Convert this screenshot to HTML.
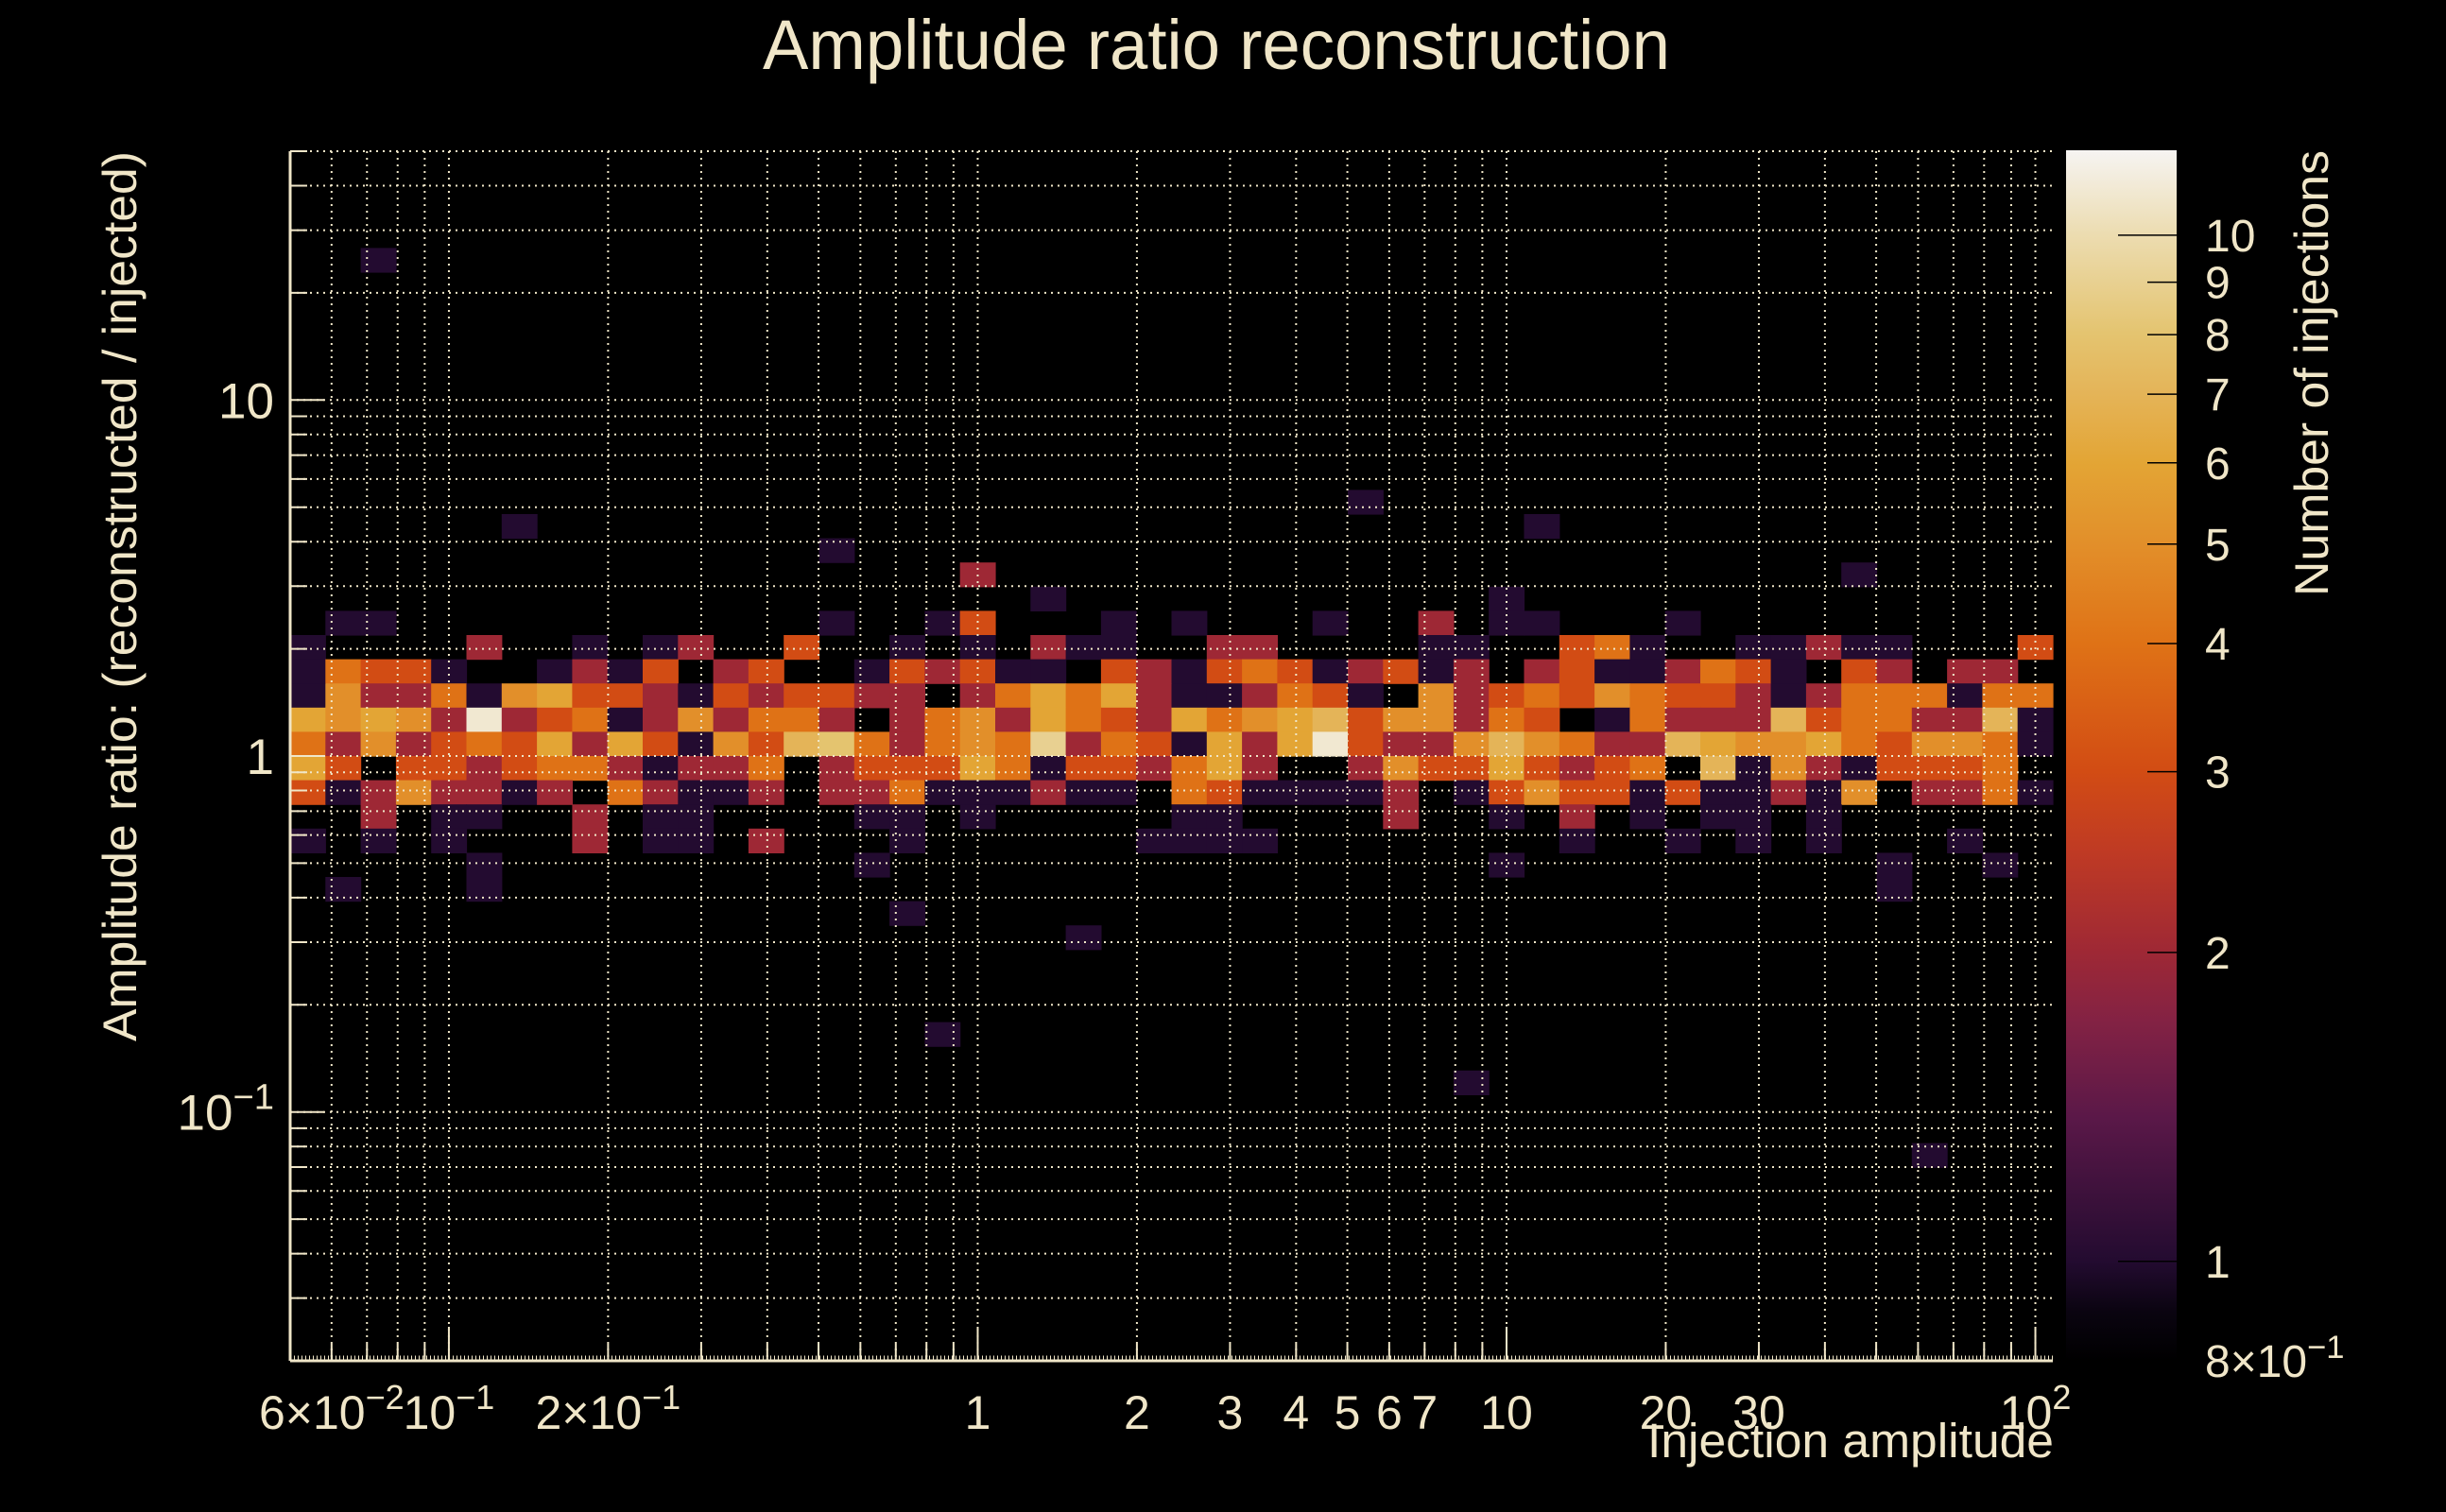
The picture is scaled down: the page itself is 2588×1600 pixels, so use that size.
<!DOCTYPE html>
<html><head><meta charset="utf-8"><title>Amplitude ratio reconstruction</title>
<style>
html,body{margin:0;padding:0;background:#000;}
svg{display:block;font-family:"Liberation Sans",sans-serif;}
text{fill:#f0e6c8;}
</style></head>
<body>
<svg id="chart" xmlns="http://www.w3.org/2000/svg" width="2588" height="1600" viewBox="0 0 2588 1600">
<rect x="0" y="0" width="2588" height="1600" fill="#000"/>
<text x="1287" y="73" font-size="74" text-anchor="middle" textLength="960" lengthAdjust="spacingAndGlyphs">Amplitude ratio reconstruction</text>
<g id="cells"></g>
<g id="grid"></g>
<g id="axes"></g>
<g id="cbar"></g>
<text transform="translate(144,160) rotate(-90)" x="0" y="0" font-size="50" text-anchor="end" textLength="942" lengthAdjust="spacingAndGlyphs">Amplitude ratio: (reconstructed / injected)</text>
<text x="2173" y="1542" font-size="51" text-anchor="end" textLength="430" lengthAdjust="spacingAndGlyphs">Injection amplitude</text>
<text transform="translate(2463,159) rotate(-90)" x="0" y="0" font-size="50" text-anchor="end" textLength="472" lengthAdjust="spacingAndGlyphs">Number of injections</text>
</svg>
<script>
const xRange = [0.0501, 107.9];
const yRange = [0.02, 50];
const zRange = [0.8, 12.1];
const nBinsX = 50;
const nBinsY = 50;
// dense band: bin rows 19..28 counted from the top (high ratio)
const bandFirstRow = 19;
const bandRows = [
[0,1,1,0,0,0,0,0,0,0,0,0,0,0,0,1,0,0,1,3,0,0,0,1,0,1,0,0,0,1,0,0,2,0,1,1,0,0,0,1,0,0,0,0,0,0,0,0,0,0],
[1,0,0,0,0,2,0,0,1,0,1,2,0,0,3,0,0,1,0,1,0,2,1,1,0,0,2,2,0,0,0,0,1,1,0,0,3,4,1,0,0,1,1,2,1,1,0,0,0,3],
[1,4,3,3,1,0,0,1,2,1,3,0,2,3,0,0,1,3,2,3,1,1,0,3,2,1,3,4,3,1,2,3,1,2,0,2,3,1,1,2,4,3,1,0,3,2,0,2,2,0],
[1,5,2,2,4,1,5,6,3,3,2,1,3,2,3,3,2,2,0,2,4,6,4,6,2,1,1,2,4,3,1,0,5,2,3,4,3,5,4,3,3,2,1,2,4,4,4,1,4,4],
[6,5,6,5,2,11,2,3,4,1,2,5,2,4,4,2,0,2,4,5,2,6,4,3,2,6,4,5,6,7,3,5,5,2,4,3,0,1,4,2,2,2,7,3,4,4,2,2,7,1],
[4,2,5,2,3,4,3,6,2,6,3,1,5,3,7,8,4,2,4,5,4,9,2,4,3,1,6,2,6,11,3,2,2,5,7,5,4,2,2,7,6,5,5,6,4,3,5,5,4,1],
[6,3,0,3,3,2,3,4,4,2,1,2,2,4,0,2,3,3,3,6,4,1,3,3,2,4,6,2,0,0,2,5,3,3,6,3,2,3,4,0,7,1,5,2,1,3,3,3,4,0],
[3,1,2,5,2,2,1,2,0,4,2,1,1,2,0,2,2,4,1,1,1,2,1,1,0,4,3,1,1,1,1,2,0,1,3,5,3,3,1,3,1,1,2,1,5,0,2,2,4,1],
[0,0,2,0,1,1,0,0,2,0,1,1,0,0,0,0,1,1,0,1,0,0,0,0,0,1,1,0,0,0,0,2,0,0,1,0,2,0,1,0,1,1,0,1,0,0,0,0,0,0],
[1,0,1,0,1,0,0,0,2,0,1,1,0,2,0,0,0,1,0,0,0,0,0,0,1,1,1,1,0,0,0,0,0,0,0,0,1,0,0,1,0,1,0,1,0,0,0,1,0,0]
];
// isolated bins outside the band
const sparseRow   = [4, 14, 15, 15, 16, 17, 17, 18, 18, 29, 29, 29, 29, 29, 30, 30, 30, 31, 32, 36, 38, 41];
const sparseCol   = [2, 30,  6, 35, 15, 19, 44, 21, 34,  5, 16, 34, 45, 48,  1,  5, 45, 17, 22, 18, 33, 46];
const sparseCount = [1,  1,  1,  1,  1,  2,  1,  1,  1,  1,  1,  1,  1,  1,  1,  1,  1,  1,  1,  1,  1,  1];
const xGridValues = [0.06,0.07,0.08,0.09,0.1,0.2,0.3,0.4,0.5,0.6,0.7,0.8,0.9,1,2,3,4,5,6,7,8,9,10,20,30,40,50,60,70,80,90,100];
const xMajorValues = [0.1,1,10,100];
const xTickValues = [0.06,0.1,0.2,1,2,3,4,5,6,7,10,20,30,100];
const xTickMantissa = ["6×10","10","2×10","1","2","3","4","5","6","7","10","20","30","10"];
const xTickExponent = ["−2","−1","−1","","","","","","","","","","","2"];
const yGridValues = [0.03,0.04,0.05,0.06,0.07,0.08,0.09,0.1,0.2,0.3,0.4,0.5,0.6,0.7,0.8,0.9,1,2,3,4,5,6,7,8,9,10,20,30,40,50];
const yMajorValues = [0.1,1,10];
const yTickValues = [10,1,0.1];
const yTickMantissa = ["10","1","10"];
const yTickExponent = ["","","−1"];
const zTickValues = [10,9,8,7,6,5,4,3,2,1,0.8];
const zTickMantissa = ["10","9","8","7","6","5","4","3","2","1","8×10"];
const zTickExponent = ["","","","","","","","","","","−1"];
const cmapStops = [[0,"#000000"],[0.04,"#0a0410"],[0.082,"#230b30"],[0.2,"#5a1848"],[0.28,"#832244"],[0.337,"#9e2835"],[0.42,"#bf3a24"],[0.487,"#d24c14"],[0.592,"#df7216"],[0.675,"#e28f2a"],[0.742,"#e3a535"],[0.799,"#e4b458"],[0.849,"#e4c470"],[0.93,"#ecdcb0"],[1,"#f6f4f2"]];

// build full count matrix from data arrays
const counts = [];
for (let r = 0; r < nBinsY; r++) { counts.push(new Array(nBinsX).fill(0)); }
bandRows.forEach((row, i) => { row.forEach((v, c) => { counts[bandFirstRow + i][c] = v; }); });
sparseRow.forEach((r, i) => { counts[r][sparseCol[i]] = sparseCount[i]; });

const PL=307, PR=2172, PT=160, PB=1440;
const CBL=2186, CBR=2303, CBT=159, CBB=1440;
const NS="http://www.w3.org/2000/svg";
const lx0=Math.log10(xRange[0]), lx1=Math.log10(xRange[1]);
const ly0=Math.log10(yRange[0]), ly1=Math.log10(yRange[1]);
const lz0=Math.log10(zRange[0]), lz1=Math.log10(zRange[1]);
function xPx(v){return PL+(Math.log10(v)-lx0)/(lx1-lx0)*(PR-PL);}
function yPx(v){return PB-(Math.log10(v)-ly0)/(ly1-ly0)*(PB-PT);}
function zT(v){return (Math.log10(v)-lz0)/(lz1-lz0);}
function zPx(v){return CBB-zT(v)*(CBB-CBT);}
function hex2rgb(h){return [parseInt(h.substr(1,2),16),parseInt(h.substr(3,2),16),parseInt(h.substr(5,2),16)];}
function cmap(t){
  t=Math.max(0,Math.min(1,t));
  for(let i=1;i<cmapStops.length;i++){
    if(t<=cmapStops[i][0]){
      const a=cmapStops[i-1],b=cmapStops[i];
      const f=(t-a[0])/(b[0]-a[0]);
      const ca=hex2rgb(a[1]),cb=hex2rgb(b[1]);
      return "rgb("+ca.map((c,k)=>Math.round(c+(cb[k]-c)*f)).join(",")+")";
    }
  }
  return cmapStops[cmapStops.length-1][1];
}
function mk(tag,attrs,parent){const e=document.createElementNS(NS,tag);for(const k in attrs)e.setAttribute(k,attrs[k]);parent.appendChild(e);return e;}

const gC=document.getElementById('cells');
for(let r=0;r<nBinsY;r++){
  const yHi=Math.pow(10,ly1-(ly1-ly0)*r/nBinsY), yLo=Math.pow(10,ly1-(ly1-ly0)*(r+1)/nBinsY);
  for(let c=0;c<nBinsX;c++){
    const v=counts[r][c];
    if(!v) continue;
    const xLo=Math.pow(10,lx0+(lx1-lx0)*c/nBinsX), xHi=Math.pow(10,lx0+(lx1-lx0)*(c+1)/nBinsX);
    const x0=xPx(xLo),x1=xPx(xHi),y0=yPx(yHi),y1=yPx(yLo);
    const el=mk('rect',{x:x0.toFixed(2),y:y0.toFixed(2),width:(x1-x0+0.6).toFixed(2),height:(y1-y0+0.6).toFixed(2),fill:cmap(zT(v))},gC);
    
    
  }
}

const gG=document.getElementById('grid');
const gridStyle={stroke:"#f0e6c8","stroke-width":2,"stroke-dasharray":"2,5",fill:"none"};
xGridValues.forEach(v=>{
  const x=xPx(v);
  const el=mk('line',Object.assign({x1:x,x2:x,y1:PT,y2:PB},gridStyle),gG);
  
  
});
yGridValues.forEach(v=>{
  const y=yPx(v);
  const el=mk('line',Object.assign({x1:PL,x2:PR,y1:y,y2:y},gridStyle),gG);
  
  
});

const gA=document.getElementById('axes');
const ax=mk('line',{x1:PL,x2:PR,y1:PB,y2:PB,stroke:"#f0e6c8","stroke-width":3},gA);


const ay=mk('line',{x1:PL,x2:PL,y1:PT,y2:PB,stroke:"#f0e6c8","stroke-width":3},gA);


const fine=mk('line',{x1:PL,x2:PR,y1:PB-3,y2:PB-3,stroke:"#f0e6c8","stroke-width":5,"stroke-dasharray":"1,3"},gA);


xGridValues.forEach(v=>{
  const x=xPx(v), len=xMajorValues.includes(v)?36:18;
  const el=mk('line',{x1:x,x2:x,y1:PB,y2:PB-len,stroke:"#f0e6c8","stroke-width":2},gA);
  
  
});
yGridValues.forEach(v=>{
  const y=yPx(v), len=yMajorValues.includes(v)?36:18;
  const el=mk('line',{x1:PL,x2:PL+len,y1:y,y2:y,stroke:"#f0e6c8","stroke-width":2},gA);
  
  
});
function labelText(parent,x,y,anchor,size,mant,exp){
  const t=mk('text',{x:x,y:y,"text-anchor":anchor,"font-size":size},parent);
  t.appendChild(document.createTextNode(mant));
  if(exp){const s=mk('tspan',{dy:-size*0.42,"font-size":size*0.72},t);s.textContent=exp;}
  return t;
}
xTickValues.forEach((v,i)=>{
  const t=labelText(gA,xPx(v),1512,"middle",50,xTickMantissa[i],xTickExponent[i]);
  
  
});
yTickValues.forEach((v,i)=>{
  const t=labelText(gA,290,yPx(v)+19,"end",53,yTickMantissa[i],yTickExponent[i]);
  
  
});

const gB=document.getElementById('cbar');
const defs=mk('defs',{},gB);
const grad=mk('linearGradient',{id:"cbgrad",x1:0,y1:1,x2:0,y2:0},defs);
cmapStops.forEach(s=>{mk('stop',{offset:s[0],"stop-color":s[1]},grad);});
const cbr=mk('rect',{x:CBL,y:CBT,width:CBR-CBL,height:CBB-CBT,fill:"url(#cbgrad)"},gB);


zTickValues.forEach((v,i)=>{
  const y=zPx(v);
  const len=(v===10||v===1)?62:31;
  const l=mk('line',{x1:CBR-len,x2:CBR,y1:y,y2:y,stroke:"#000","stroke-width":1.5},gB);
  
  
  const t=labelText(gB,2333,y+17,"start",48,zTickMantissa[i],zTickExponent[i]);
  
  
});
</script>
</body></html>
